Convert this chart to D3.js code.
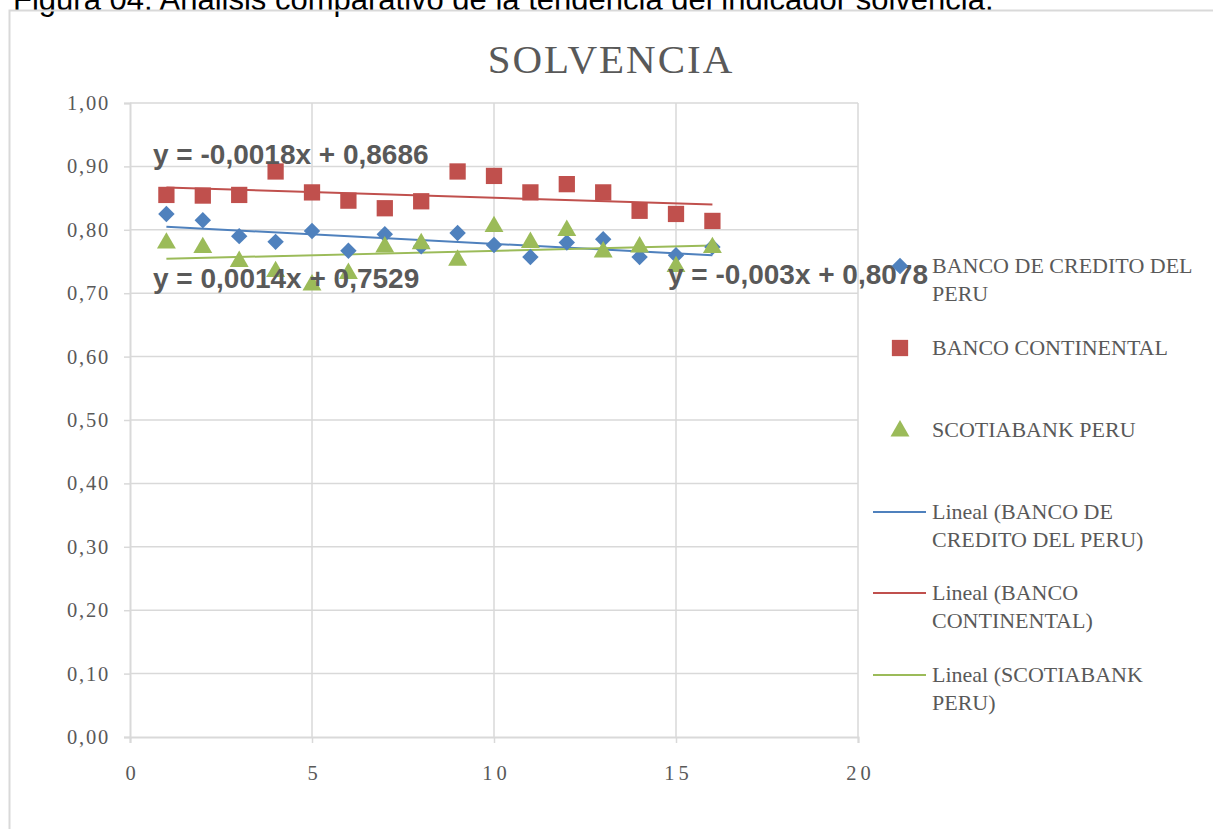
<!DOCTYPE html>
<html><head><meta charset="utf-8">
<script src="https://cdn.jsdelivr.net/npm/d3@7"></script>
<style>
html,body{margin:0;padding:0;background:#fff;}
svg{display:block;}
</style></head>
<body>
<svg id="chart" width="1213" height="829"></svg>
<script>
// ---- data ----
const periods = [1,2,3,4,5,6,7,8,9,10,11,12,13,14,15,16];
const bcpValues = [0.825,0.815,0.790,0.781,0.798,0.767,0.793,0.774,0.795,0.776,0.757,0.780,0.785,0.757,0.760,0.773];
const continentalValues = [0.855,0.854,0.855,0.892,0.859,0.846,0.834,0.845,0.892,0.885,0.859,0.872,0.859,0.830,0.825,0.814];
const scotiaValues = [0.779,0.772,0.750,0.734,0.713,0.731,0.773,0.778,0.752,0.805,0.780,0.799,0.765,0.773,0.742,0.772];
const seriesNames = ["BANCO DE CREDITO DEL PERU","BANCO CONTINENTAL","SCOTIABANK PERU"];
const trendSlopes = [-0.003,-0.0018,0.0014];
const trendIntercepts = [0.8078,0.8686,0.7529];
const trendLabels = ["y = -0,003x + 0,8078","y = -0,0018x + 0,8686","y = 0,0014x + 0,7529"];
const legendLabels = [
  ["BANCO DE CREDITO DEL","PERU"],
  ["BANCO CONTINENTAL"],
  ["SCOTIABANK PERU"],
  ["Lineal (BANCO DE","CREDITO DEL PERU)"],
  ["Lineal (BANCO","CONTINENTAL)"],
  ["Lineal (SCOTIABANK","PERU)"]
];
const yTickValues = [0,0.1,0.2,0.3,0.4,0.5,0.6,0.7,0.8,0.9,1.0];
const xTickValues = [0,5,10,15,20];
const chartTitle = "SOLVENCIA";
const caption = "Figura 04: Análisis comparativo de la tendencia del indicador solvencia.";

// ---- styles ----
const colors = ["#4F81BD","#C0504D","#9BBB59"];
const textGray = "#595959";
const gridGray = "#d9d9d9";
const serif = "'Liberation Serif', 'DejaVu Serif', serif";

const svg = d3.select("#chart");

// caption (cut at top, as in the reference)
svg.append("text").attr("x",13).attr("y",10)
  .attr("font-family","'Liberation Sans', Arial, sans-serif").attr("font-size",31)
  .attr("fill","#000").text(caption);

// chart border
svg.append("path").attr("d","M9.5,829 L9.5,10.5 L1213,10.5")
  .attr("fill","none").attr("stroke",gridGray).attr("stroke-width",2);

const x = d3.scaleLinear().domain([0,20]).range([130,858]);
const y = d3.scaleLinear().domain([0,1]).range([737,103]);

// gridlines
const g = svg.append("g");
g.selectAll(".hg").data(yTickValues.slice(1)).join("line")
  .attr("x1",x(0)).attr("x2",x(20)).attr("y1",d=>y(d)).attr("y2",d=>y(d))
  .attr("stroke",gridGray).attr("stroke-width",1.5);
g.selectAll(".vg").data(xTickValues.slice(1)).join("line")
  .attr("y1",y(0)).attr("y2",y(1)).attr("x1",d=>x(d)).attr("x2",d=>x(d))
  .attr("stroke",gridGray).attr("stroke-width",1.5);

// axes
const fmt = d => d3.format(".2f")(d).replace(".",",");
const yAxis = d3.axisLeft(y).tickValues(yTickValues).tickFormat(fmt).tickSize(6).tickPadding(14);
const xAxis = d3.axisBottom(x).tickValues(xTickValues).tickFormat(d=>d).tickSize(6).tickPadding(22);
const ya = svg.append("g").attr("transform",`translate(${x(0)},0)`).call(yAxis);
const xa = svg.append("g").attr("transform",`translate(0,${y(0)})`).call(xAxis);
[ya,xa].forEach(a=>{
  a.select(".domain").attr("stroke",gridGray).attr("stroke-width",2);
  a.selectAll(".tick line").attr("stroke",gridGray).attr("stroke-width",1.5);
  a.selectAll(".tick text").attr("fill",textGray).attr("font-family",serif).attr("font-size",20.5);
});
ya.selectAll(".tick text").attr("letter-spacing","1.8px").attr("dx","0px");
xa.selectAll(".tick text").attr("letter-spacing","4px").attr("dx","2px");

// trend lines
const allSeries = [bcpValues,continentalValues,scotiaValues];
const lineGen = d3.line().x(d=>x(d[0])).y(d=>y(d[1]));
[0,1,2].forEach(i=>{
  const pts = [periods[0], periods[periods.length-1]].map(p=>[p, trendSlopes[i]*p + trendIntercepts[i]]);
  svg.append("path").attr("d",lineGen(pts)).attr("fill","none")
    .attr("stroke",colors[i]).attr("stroke-width",2);
});

// markers
const symDiamond = d3.symbol().type(d3.symbolSquare).size(135);
const symSquare = d3.symbol().type(d3.symbolSquare).size(265);
const symTri = d3.symbol().type(d3.symbolTriangle).size(155);
function drawMarker(sel, i, cx, cy){
  if(i===0) sel.append("path").attr("d",symDiamond()).attr("transform",`translate(${cx},${cy}) rotate(45)`).attr("fill",colors[0]);
  else if(i===1) sel.append("path").attr("d",symSquare()).attr("transform",`translate(${cx},${cy})`).attr("fill",colors[1]);
  else sel.append("path").attr("d",symTri()).attr("transform",`translate(${cx},${cy})`).attr("fill",colors[2]);
}
[0,1,2].forEach(i=>{
  const mg = svg.append("g");
  allSeries[i].forEach((v,k)=>drawMarker(mg,i,x(periods[k]),y(v)));
});

// trend equation labels
const eqFont = "'Liberation Sans', Arial, sans-serif";
const eqPos = [[668,284],[153,164],[153,288]];
[1,2,0].forEach(i=>{
  svg.append("text").attr("x",eqPos[i][0]).attr("y",eqPos[i][1])
    .attr("font-family",eqFont).attr("font-weight","bold").attr("font-size",28)
    .attr("fill",textGray).text(trendLabels[i]);
});

// title
svg.append("text").attr("x",611).attr("y",73).attr("text-anchor","middle")
  .attr("font-family",serif).attr("font-size",41).attr("letter-spacing","2px")
  .attr("fill",textGray).text(chartTitle);

// legend
const legY = [266,348,430,512,593,675];
const leg = svg.append("g");
legendLabels.forEach((lines,j)=>{
  if(j<3) drawMarker(leg,j,900,legY[j] + (j===2?1:0));
  else leg.append("line").attr("x1",873).attr("x2",926).attr("y1",legY[j]).attr("y2",legY[j])
    .attr("stroke",colors[j-3]).attr("stroke-width",2);
  lines.forEach((t,l)=>{
    leg.append("text").attr("x",932).attr("y",legY[j]+7+l*28)
      .attr("font-family",serif).attr("font-size",22).attr("fill",textGray).text(t);
  });
});
</script>
</body></html>
